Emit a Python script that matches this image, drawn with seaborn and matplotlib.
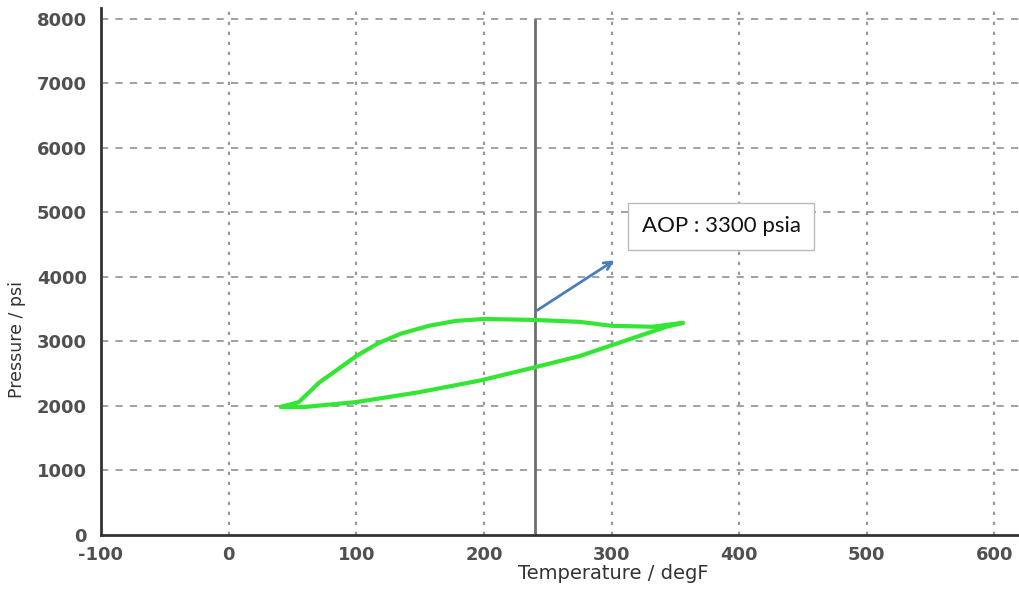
import matplotlib
matplotlib.use("Agg")
import matplotlib.pyplot as plt
import seaborn as sns
import pandas as pd

# === DATA ===
# upper (bubble) branch left->right, then lower (dew) branch back right->left
loop_temp = [41, 55, 71, 85, 100, 117, 135, 157, 178, 200, 240, 275, 300, 332, 356,
             343, 300, 275, 238, 197, 149, 100, 60, 41]
loop_pres = [1985, 2060, 2364, 2560, 2773, 2970, 3121, 3242, 3318, 3348, 3333, 3303,
             3242, 3227, 3288, 3227, 2940, 2773, 2590, 2394, 2212, 2060, 1985, 1985]
aop_temp = 240
aop_label = "AOP : 3300 psia"
x_ticks = [-100, 0, 100, 200, 300, 400, 500, 600]
y_ticks = [0, 1000, 2000, 3000, 4000, 5000, 6000, 7000, 8000]

df = pd.DataFrame({"Temperature": loop_temp, "Pressure": loop_pres})

sns.set_style("white")
plt.rcParams['font.family'] = ['DejaVu Sans']
plt.rcParams['axes.unicode_minus'] = False

fig = plt.figure(figsize=(10.2, 5.89), dpi=100)
ax = fig.add_axes([0.099, 0.0917, 0.901, 0.895])

# grid: dashed horizontal, dotted vertical
for yv in y_ticks[1:]:
    ax.axhline(yv, color='#9a9a9a', lw=1.3, dashes=(4, 4), zorder=1)
for xv in x_ticks[1:]:
    ax.axvline(xv, color='#9a9a9a', lw=1.6, dashes=(1.5, 3), zorder=1)

# AOP vertical line
ax.vlines(aop_temp, 0, 8000, color='#6e6e6e', lw=2, zorder=2)

# phase envelope loop (keep point order, no aggregation)
sns.lineplot(data=df, x="Temperature", y="Pressure", sort=False, estimator=None,
             color='#33e633', lw=3, ax=ax, zorder=3)

# arrow + label box
ax.annotate("", xy=(304, 4280), xytext=(aop_temp, 3460),
            arrowprops=dict(arrowstyle='->', color='#4a7ebb', lw=2, mutation_scale=14),
            zorder=4)
ax.text(386, 4785, aop_label, fontsize=16, family=['Lato', 'DejaVu Sans'],
        ha='center', va='center', color='#111111',
        bbox=dict(boxstyle='square,pad=0.6', fc='white', ec='#bbbbbb', lw=1), zorder=5)

ax.set_xlim(-100, 620)
ax.set_ylim(0, 8170)
ax.set_xticks(x_ticks)
ax.set_yticks(y_ticks)
ax.tick_params(length=0, labelsize=13, labelcolor='#505050')
ax.tick_params(axis='y', pad=10)
ax.tick_params(axis='x', pad=8)
for lbl in ax.get_xticklabels() + ax.get_yticklabels():
    lbl.set_fontweight('bold')

for s in ['top', 'right']:
    ax.spines[s].set_visible(False)
for s in ['left', 'bottom']:
    ax.spines[s].set_color('#333333')
    ax.spines[s].set_linewidth(2)

ax.set_xlabel("Temperature / degF", fontsize=14, color='#333333')
ax.set_ylabel("Pressure / psi", fontsize=12.5, color='#333333')
ax.xaxis.set_label_coords(0.558, -0.055)
ax.yaxis.set_label_coords(-0.082, 0.37)

fig.savefig("out.png", dpi=100)
